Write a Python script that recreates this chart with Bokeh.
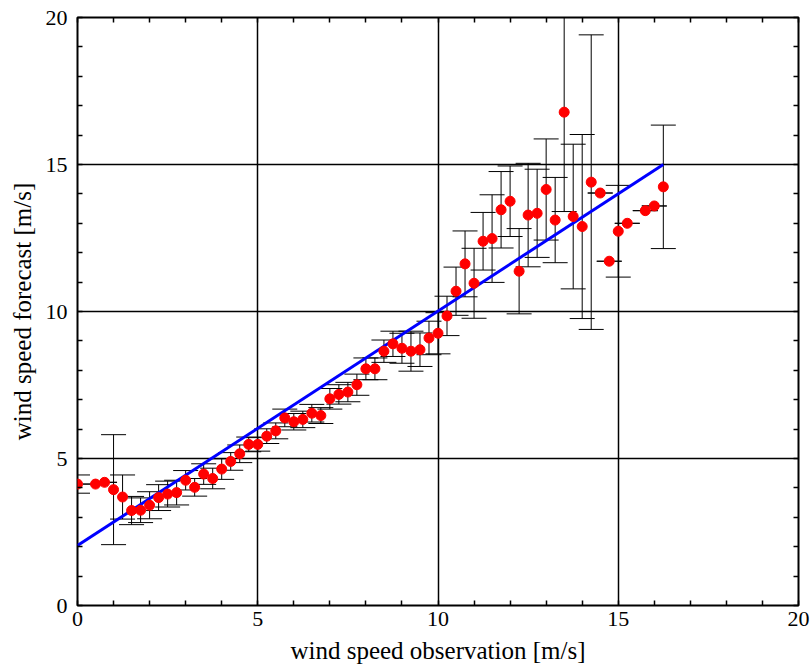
from bokeh.plotting import figure
from bokeh.models import (ColumnDataSource, Whisker, TeeHead, Range1d,
                          SingleIntervalTicker, FixedTicker, LinearAxis)
from bokeh.embed import file_html
from bokeh.resources import INLINE

# --- data -----------------------------------------------------------------
obs = [0.0, 0.5, 0.75, 1.0, 1.25, 1.5, 1.75, 2.0, 2.25, 2.5, 2.75, 3.0, 3.25,
       3.5, 3.75, 4.0, 4.25, 4.5, 4.75, 5.0, 5.25, 5.5, 5.75, 6.0, 6.25, 6.5,
       6.75, 7.0, 7.25, 7.5, 7.75, 8.0, 8.25, 8.5, 8.75, 9.0, 9.25, 9.5, 9.75,
       10.0, 10.25, 10.5, 10.75, 11.0, 11.25, 11.5, 11.75, 12.0, 12.25, 12.5,
       12.75, 13.0, 13.25, 13.5, 13.75, 14.0, 14.25, 14.5, 14.75, 15.0, 15.25,
       15.75, 16.0, 16.25]
fcst = [4.13, 4.13, 4.19, 3.94, 3.69, 3.23, 3.24, 3.41, 3.67, 3.79, 3.84,
        4.26, 4.02, 4.47, 4.32, 4.64, 4.90, 5.16, 5.48, 5.48, 5.76, 5.94,
        6.38, 6.25, 6.33, 6.54, 6.46, 7.03, 7.18, 7.26, 7.51, 8.05, 8.05,
        8.65, 8.90, 8.75, 8.65, 8.70, 9.10, 9.26, 9.85, 10.69, 11.62, 10.96,
        12.39, 12.48, 13.46, 13.75, 11.37, 13.28, 13.34, 14.15, 13.11, 16.78,
        13.23, 12.89, 14.40, 14.03, 11.71, 12.73, 13.00, 13.43, 13.59, 14.24]
err = [0.31, 0.0, 0.0, 1.87, 0.75, 0.48, 0.42, 0.46, 0.44, 0.44, 0.42,
       0.33, 0.30, 0.35, 0.35, 0.35, 0.30, 0.30, 0.25, 0.23, 0.25, 0.27,
       0.30, 0.28, 0.28, 0.30, 0.27, 0.35, 0.33, 0.33, 0.36, 0.37, 0.37,
       0.38, 0.43, 0.51, 0.68, 0.57, 0.57, 0.70, 0.67, 0.82, 1.12, 1.19,
       0.98, 1.49, 1.30, 1.20, 1.45, 1.76, 1.50, 1.72, 1.45, 3.38, 2.46,
       3.13, 5.01, 0.0, 0.0, 1.56, 0.0, 0.0, 0.0, 2.10]

fit_x = [0.0, 16.25]
fit_y = [2.04, 15.0]

minor_tick_values = list(range(0, 21))

x_label = "wind speed observation [m/s]"
y_label = "wind speed forecast [m/s]"

# --- figure ---------------------------------------------------------------
FONT = "Liberation Serif"

p = figure(width=811, height=669, output_backend="svg", toolbar_location=None,
           x_range=Range1d(0, 20), y_range=Range1d(0, 20),
           min_border_left=77, min_border_right=13, min_border_top=17,
           min_border_bottom=64, x_axis_label=x_label, y_axis_label=y_label)
p.background_fill_color = "white"
p.border_fill_color = "white"
p.outline_line_color = "black"
p.outline_line_width = 2

ticker = SingleIntervalTicker(interval=5, num_minor_ticks=5)
for ax in (p.xaxis[0], p.yaxis[0]):
    ax.ticker = ticker
    ax.axis_line_color = None
    ax.major_tick_in = 0
    ax.major_tick_out = 0
    ax.minor_tick_in = 5
    ax.minor_tick_out = 0
    ax.minor_tick_line_width = 1.5
    ax.minor_tick_line_color = "black"
    ax.major_label_text_font = FONT
    ax.major_label_text_font_size = "22px"
    ax.major_label_text_color = "black"
    ax.axis_label_text_font = FONT
    ax.axis_label_text_font_size = "25px"
    ax.axis_label_text_font_style = "normal"
    ax.axis_label_text_color = "black"
p.xaxis.major_label_standoff = 6
p.xaxis.axis_label_standoff = 8
p.yaxis.major_label_standoff = 10
p.yaxis.axis_label_standoff = 7

# mirrored tick marks on the top and right edges (no labels)
for side in ("above", "right"):
    mirror = LinearAxis(ticker=FixedTicker(ticks=[], minor_ticks=minor_tick_values),
                        axis_line_color=None,
                        major_tick_in=0, major_tick_out=0,
                        minor_tick_in=5, minor_tick_out=0,
                        minor_tick_line_width=1.5, minor_tick_line_color="black")
    p.add_layout(mirror, side)

for g in (p.xgrid[0], p.ygrid[0]):
    g.ticker = ticker
    g.grid_line_color = "black"
    g.grid_line_width = 1.5
    g.grid_line_alpha = 1.0

# --- data renderers -------------------------------------------------------
src = ColumnDataSource(data=dict(
    x=obs, y=fcst,
    upper=[f + e for f, e in zip(fcst, err)],
    lower=[f - e for f, e in zip(fcst, err)],
))

wh = Whisker(source=src, base="x", upper="upper", lower="lower",
             line_color="black", line_width=1, level="underlay",
             upper_head=TeeHead(size=25, line_color="black", line_width=1),
             lower_head=TeeHead(size=25, line_color="black", line_width=1))
p.add_layout(wh)

p.line(fit_x, fit_y, line_color="#0000ff", line_width=3)
p.scatter("x", "y", source=src, marker="circle", size=10,
          fill_color="#ff0000", line_color="#ff0000")

open("out.html", "w").write(file_html(p, INLINE))
